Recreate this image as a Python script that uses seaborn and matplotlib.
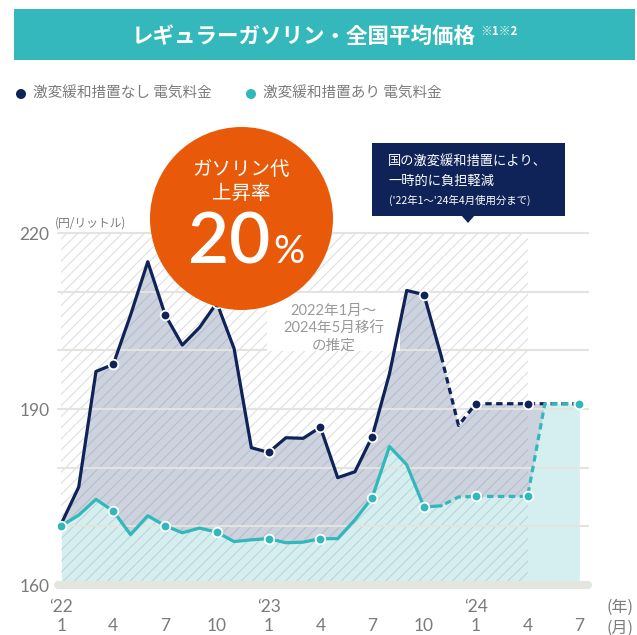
import matplotlib
matplotlib.use("Agg")

import numpy as np
import pandas as pd
import seaborn as sns
import matplotlib.pyplot as plt
from matplotlib.patches import Rectangle, Ellipse, Polygon

# =========================
# Data (monthly, Jan 2022 - Jul 2024, yen / litre)
# =========================
no_relief = [170.5, 176.7, 196.4, 197.6, 206.0, 215.1, 206.1, 200.9, 203.9, 208.1,
             200.3, 183.4, 182.6, 185.1, 185.0, 186.9, 178.3, 179.3, 185.3, 196.0,
             210.2, 209.5, 199.0, 187.2, 190.9, 190.9, 190.9, 190.9, 190.9, 190.9,
             190.9]
with_relief = [170.1, 171.9, 174.6, 172.6, 168.6, 171.8, 170.1, 168.9, 169.7, 169.0,
               167.4, 167.7, 167.9, 167.2, 167.3, 167.9, 167.9, 171.1, 174.9, 183.6,
               180.5, 173.3, 173.5, 175.0, 175.1, 175.1, 175.1, 175.1, 190.9, 190.9,
               190.9]
month_labels = ["1", "4", "7", "10", "1", "4", "7", "10", "1", "4", "7"]
year_labels = ["‘22", "‘23", "‘24"]
y_labels = [160, 190, 220]
grid_levels = [170, 180, 190, 200, 210, 220]

last_actual = 22      # Nov 2023: after this the lines are estimates (dashed)
relief_end = 27       # Apr 2024: end of the relief measures
meet_month = 28       # May 2024: both series meet

NAVY = "#0f2358"
TEAL = "#30b8ba"
NAVY_FILL = "#cdd2df"
TEAL_FILL = "#d5eff0"
ORANGE = "#e85a0a"
GREY = "#7b7b7b"

NUM_FONT = ["Lato", "Noto Sans CJK JP"]

sns.set_theme(style="white")
plt.rcParams["font.family"] = ["Noto Sans CJK JP", "DejaVu Sans"]
plt.rcParams["hatch.linewidth"] = 0.8

df = pd.DataFrame({"month": np.arange(len(no_relief)),
                   "no_relief": no_relief,
                   "with_relief": with_relief})
solid = df[df["month"] <= last_actual]
dashed = df[df["month"] >= last_actual]


def fx(px):
    return px / 637


def fy(py):
    return 1 - py / 635


fig = plt.figure(figsize=(6.37, 6.35), dpi=100)
ax = fig.add_axes([fx(58), fy(585), 530 / 637, 352 / 635])
ax.set_xlim(-0.2, 30.5)
ax.set_ylim(160, 220)
for s in ax.spines.values():
    s.set_visible(False)

# -------------------------
# Fills and background hatch
# -------------------------
ax.fill_between(df["month"], 160, df["with_relief"], color=TEAL_FILL, lw=0, zorder=1)
both = df[df["month"] <= meet_month]
ax.fill_between(both["month"], both["with_relief"], both["no_relief"],
                color=NAVY_FILL, lw=0, zorder=1.1)
ax.fill_between([0, relief_end], 160, 220, facecolor="none",
                edgecolor=(0.5, 0.5, 0.55, 0.25), hatch="///", lw=0, zorder=1.5)

for lv in grid_levels:
    ax.axhline(lv, color="#e4e4de", lw=1.5, zorder=2, clip_on=False)
ax.axhline(160, color="#e5e5e0", lw=5.8, zorder=2, clip_on=False)

# estimate note box
ax.add_patch(Rectangle((fx(267), fy(351)), fx(400) - fx(267), fy(293) - fy(351),
                       transform=fig.transFigure, facecolor="white", edgecolor="none",
                       zorder=2.5))
fig.text(fx(334), fy(328), "2022年1月～\n2024年5月移行\nの推定", ha="center", va="center",
         fontsize=10.5, color="#9a9a9a", linespacing=1.3, family=NUM_FONT)

# -------------------------
# Lines and markers
# -------------------------
dash = (0, (2.0, 1.4))
sns.lineplot(data=solid, x="month", y="no_relief", color=NAVY, lw=2.3, ax=ax, zorder=4)
sns.lineplot(data=dashed, x="month", y="no_relief", color=NAVY, lw=2.3, ax=ax,
             linestyle=dash, zorder=4)
sns.lineplot(data=solid, x="month", y="with_relief", color=TEAL, lw=2.3, ax=ax, zorder=4.2)
sns.lineplot(data=dashed, x="month", y="with_relief", color=TEAL, lw=2.3, ax=ax,
             linestyle=(2.0, (2.0, 1.4)), zorder=4.2)

quarter = df[df["month"] % 3 == 0]
navy_pts = quarter[(quarter["month"] > 0) & (quarter["month"] <= relief_end)]
sns.scatterplot(data=navy_pts, x="month", y="no_relief", color=NAVY, s=48,
                edgecolor="white", linewidth=1.3, ax=ax, zorder=5)
sns.scatterplot(data=quarter, x="month", y="with_relief", color=TEAL, s=48,
                edgecolor="white", linewidth=1.3, ax=ax, zorder=5.2)

# -------------------------
# Axes labels
# -------------------------
ax.set_xlabel("")
ax.set_ylabel("")
ax.set_yticks(y_labels)
ax.set_yticklabels([str(v) for v in y_labels], fontfamily=NUM_FONT)
ax.set_xticks(range(0, len(no_relief), 3))
ax.set_xticklabels(month_labels, fontfamily=NUM_FONT)
ax.tick_params(axis="y", length=0, pad=6, labelsize=12.5, labelcolor=GREY)
ax.tick_params(axis="x", length=0, pad=24, labelsize=12.5, labelcolor=GREY)
for i, lab in enumerate(year_labels):
    ax.text(i * 12, -0.0625, lab, transform=ax.get_xaxis_transform(), ha="center",
            va="center", fontsize=12.5, color=GREY, family=NUM_FONT)
fig.text(fx(620), fy(607), "(年)", ha="center", va="center", fontsize=11.5, color=GREY)
fig.text(fx(620), fy(628), "(月)", ha="center", va="center", fontsize=11.5, color=GREY)
fig.text(fx(55), fy(223), "(円/リットル)", ha="left", va="center", fontsize=8.5, color=GREY)

# -------------------------
# Title banner and legend
# -------------------------
fig.add_artist(Rectangle((fx(14), fy(60)), fx(635) - fx(14), fy(9) - fy(60),
                         transform=fig.transFigure, facecolor="#34b8bb", edgecolor="none"))
fig.text(fx(476), fy(36), "レギュラーガソリン・全国平均価格", ha="right", va="center",
         fontsize=15.5, fontweight="bold", color="white")
fig.text(fx(480), fy(31), "※1※2", ha="left", va="center", fontsize=8.5,
         fontweight="bold", color="white")

for x0, col, lab in [(21, NAVY, "激変緩和措置なし 電気料金"), (251, TEAL, "激変緩和措置あり 電気料金")]:
    fig.add_artist(Ellipse((fx(x0), fy(94)), 10 / 637, 10 / 635,
                           transform=fig.transFigure, facecolor=col, edgecolor="none"))
    fig.text(fx(x0 + 12), fy(94), lab, ha="left", va="center", fontsize=10.5, color=GREY)

# -------------------------
# Callout and orange badge
# -------------------------
fig.add_artist(Rectangle((fx(372), fy(216)), fx(565) - fx(372), fy(143) - fy(216),
                         transform=fig.transFigure, facecolor=NAVY, edgecolor="none"))
fig.add_artist(Polygon([(fx(461), fy(215)), (fx(475), fy(215)), (fx(468), fy(223))],
                       closed=True, transform=fig.transFigure, facecolor=NAVY,
                       edgecolor="none"))
fig.text(fx(388), fy(162), "国の激変緩和措置により、", ha="left", va="center",
         fontsize=9.5, color="white")
fig.text(fx(388), fy(181), "一時的に負担軽減", ha="left", va="center",
         fontsize=9.5, color="white")
fig.text(fx(389), fy(200), "('22年1～'24年4月使用分まで)", ha="left", va="center",
         fontsize=7.5, color="white")

fig.add_artist(Ellipse((fx(241.5), fy(218.5)), 183 / 637, 183 / 635,
                       transform=fig.transFigure, facecolor=ORANGE, edgecolor="none",
                       zorder=10))
fig.text(fx(241.5), fy(170), "ガソリン代", ha="center", va="center", fontsize=14,
         color="white", zorder=11)
fig.text(fx(241.5), fy(193), "上昇率", ha="center", va="center", fontsize=14,
         color="white", zorder=11)
fig.text(fx(270), fy(263), "20", ha="right", va="baseline", fontsize=51,
         fontweight="semibold", color="white", family=NUM_FONT, zorder=11)
fig.text(fx(273), fy(263), "%", ha="left", va="baseline", fontsize=28,
         color="white", family=NUM_FONT, zorder=11)

fig.savefig("out.png", dpi=100)
